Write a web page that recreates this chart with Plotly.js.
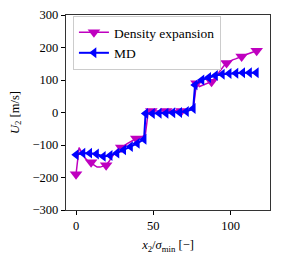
<!DOCTYPE html>
<html>
<head>
<meta charset="utf-8">
<script src="https://cdn.plot.ly/plotly-3.0.1.min.js"></script>
<style>html,body{margin:0;padding:0;background:#fff;}#chart{width:284px;height:259px;}</style>
</head>
<body>
<div id="chart"></div>
<script>
// Density expansion: dense line samples (x2/sigma_min) and values (m/s)
const deX = [0,1.95,3.9,5.84,7.79,9.74,11.69,13.64,15.58,17.53,19.48,21.43,23.38,25.32,27.27,29.22,31.17,33.12,35.06,37.01,38.96,40.91,42.86,44.8,46.75,48.7,50.65,52.6,54.54,56.49,58.44,60.39,62.34,64.28,66.23,68.18,70.13,72.08,74.02,75.97,77.92,79.87,81.82,83.76,85.71,87.66,89.61,91.56,93.5,95.45,97.4,99.35,101.3,103.24,105.19,107.14,109.09,111.04,112.98,114.93,116.88];
const deY = [-190,-108,-125,-140,-150,-153,-162,-168,-168,-166,-162,-150,-135,-122,-112,-108,-102,-96,-90,-85,-80,-78,-75,-70,3,5,5,5,5,5,5,5,5,5,5,5,5,6,8,14,90,80,84,88,92,95,105,118,130,142,152,158,162,165,168,172,176,180,184,187,190];
// Density expansion marker samples
const deMarkX = [0,9.74,19.48,29.22,38.96,48.7,58.44,68.18,77.92,87.66,97.4,107.14,116.88];
const deMarkY = [-190,-153,-162,-108,-80,5,5,5,90,95,152,172,190];
// MD
const mdX = [0,4.4,8.8,13.2,17.6,22,26.4,30.8,35.2,39.6,44,45,49.4,53.8,58.2,62.6,67,71.4,75.8,77,81.4,85.8,90.2,94.6,99,103.4,107.8,112.2,116.6];
const mdY = [-130,-125,-125,-128,-135,-132,-125,-115,-105,-95,-82,-3,-3,-2,-2,-1,0,3,12,85,100,108,114,118,120,121,122,122,122];

const MAG = '#bf00bf', BLU = '#0000ff';
const font = {family: 'Liberation Serif', size: 12.5, color: '#000'};
const legFont = {family: 'Liberation Serif', size: 13.5, color: '#000'};

const traces = [
  {x: deX, y: deY, mode: 'lines', line: {color: MAG, width: 1.5}, showlegend: false, hoverinfo: 'skip'},
  {x: deMarkX, y: deMarkY, mode: 'markers', marker: {symbol: 'triangle-down', color: MAG, size: 11}, showlegend: false},
  {x: [null], y: [null], mode: 'lines+markers', name: 'Density expansion', line: {color: MAG, width: 1.5}, marker: {symbol: 'triangle-down', color: MAG, size: 11}},
  {x: mdX, y: mdY, mode: 'lines+markers', name: 'MD', line: {color: BLU, width: 2}, marker: {symbol: 'triangle-left', color: BLU, size: 9.5}}
];

const axisCommon = {
  showgrid: false, zeroline: false, showline: true, mirror: true,
  linecolor: '#333', linewidth: 1.2, ticks: 'outside', ticklen: 4, tickwidth: 1, tickcolor: '#000',
  tickfont: font
};

const layout = {
  width: 284, height: 259,
  margin: {l: 66, r: 14, t: 15, b: 49},
  paper_bgcolor: '#fff', plot_bgcolor: '#fff',
  font: font,
  showlegend: true,
  legend: {x: 0.034, y: 0.995, xanchor: 'left', yanchor: 'top', bgcolor: 'rgba(255,255,255,0.8)',
           bordercolor: '#ccc', borderwidth: 1, font: legFont, tracegroupgap: 0},
  xaxis: Object.assign({}, axisCommon, {range: [-6.5, 125.5], tickvals: [0, 50, 100],
    title: {text: '<i>x</i><sub>2</sub>/<i>σ</i><sub>min</sub> [−]', font: font, standoff: 8}}),
  yaxis: Object.assign({}, axisCommon, {range: [-300, 300], tickvals: [-300,-200,-100,0,100,200,300],
    ticktext: ['−300','−200','−100','0','100','200','300'],
    title: {text: '<i>U</i><sub>2</sub> [m/s]', font: font, standoff: 10}})
};

Plotly.newPlot('chart', traces, layout, {displayModeBar: false, staticPlot: true});
</script>
</body>
</html>
